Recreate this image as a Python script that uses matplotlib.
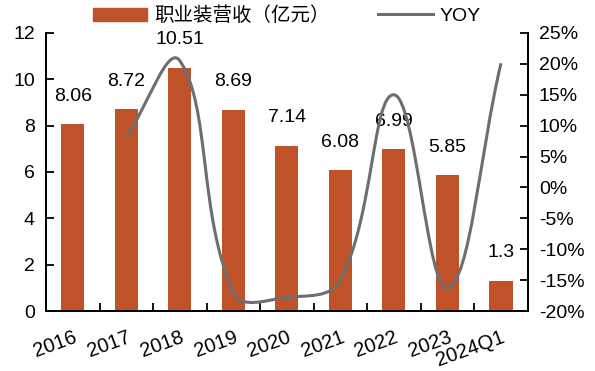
import numpy as np
import matplotlib.pyplot as plt
from matplotlib.path import Path
from matplotlib.patches import PathPatch
from matplotlib.lines import Line2D

plt.rcParams["font.family"] = ["Liberation Sans", "Noto Sans CJK SC", "DejaVu Sans"]

categories = ["2016", "2017", "2018", "2019", "2020", "2021", "2022", "2023", "2024Q1"]
revenue = [8.06, 8.72, 10.51, 8.69, 7.14, 6.08, 6.99, 5.85, 1.3]
yoy_cats = categories[1:]
yoy = [8.2, 20.5, -17.0, -17.8, -15.0, 15.0, -16.3, 20.1]

C_BAR = "#C0522A"
C_LINE = "#6E6E6E"

fig = plt.figure(figsize=(5.95, 3.71), dpi=100)
ax = fig.add_axes([0.0773, 0.1617, 0.8097, 0.7494])
ax2 = ax.twinx()

x = np.arange(len(categories))
bars = ax.bar(x, revenue, width=0.43, color=C_BAR, zorder=2)
for b, v in zip(bars, revenue):
    ax.annotate(f"{v:g}", (b.get_x() + b.get_width() / 2, v), xytext=(0, 14),
                textcoords="offset points", ha="center", va="bottom", fontsize=14)

ax.set_xlim(-0.5, len(categories) - 0.5)
ax.set_ylim(0, 12)
ax.set_yticks(range(0, 13, 2))
ax.set_xticks(x)
ax.set_xticklabels(categories, rotation=20, ha="right", rotation_mode="anchor")
ax.set_xticks(np.arange(0.5, len(categories) - 1, 1), minor=True)
ax.tick_params(axis="x", which="major", length=0, pad=12, labelsize=14.5)
ax.tick_params(axis="x", which="minor", direction="in", length=6, width=1.3)
ax.tick_params(axis="y", direction="in", length=6, width=1.3, labelsize=14, pad=8)

ax2.set_ylim(-20, 25)
ax2.set_yticks(range(-20, 26, 5))
ax2.set_yticklabels([f"{t}%" for t in range(-20, 26, 5)])
ax2.tick_params(axis="y", direction="in", length=6, width=1.3, labelsize=14, pad=8)

# smoothed YOY line: bezier with control points weighted by segment length,
# computed in screen space like office chart smoothing
xs = np.array([categories.index(c) for c in yoy_cats], dtype=float)
pts = ax2.transData.transform(np.column_stack([xs, yoy]))
tension = 0.4
n = len(pts)
verts = [pts[0]]
codes = [Path.MOVETO]
ctrl_in, ctrl_out = [None] * n, [None] * n
for i in range(n):
    p0 = pts[max(i - 1, 0)]
    p1 = pts[i]
    p2 = pts[min(i + 1, n - 1)]
    d01 = np.hypot(*(p1 - p0))
    d12 = np.hypot(*(p2 - p1))
    tot = d01 + d12
    ctrl_in[i] = p1 - tension * d01 / tot * (p2 - p0)
    ctrl_out[i] = p1 + tension * d12 / tot * (p2 - p0)
for i in range(n - 1):
    verts += [ctrl_out[i], ctrl_in[i + 1], pts[i + 1]]
    codes += [Path.CURVE4] * 3
verts = ax2.transData.inverted().transform(np.array(verts))
ax2.add_patch(PathPatch(Path(verts, codes), facecolor="none", edgecolor=C_LINE,
                        lw=2.2, zorder=3))

for a in (ax, ax2):
    a.spines["top"].set_visible(False)
    for s in ("left", "right", "bottom"):
        a.spines[s].set_linewidth(1.3)

handles = [plt.Rectangle((0, 0), 1, 1, color=C_BAR),
           Line2D([], [], color=C_LINE, lw=2.2)]
fig.legend(handles, ["职业装营收（亿元）", "YOY"], loc="center",
           bbox_to_anchor=(0.482, 0.957), ncol=2, frameon=False, fontsize=14,
           handlelength=2.8, columnspacing=2.5, handletextpad=0.35)

plt.savefig("out.png", dpi=100)
